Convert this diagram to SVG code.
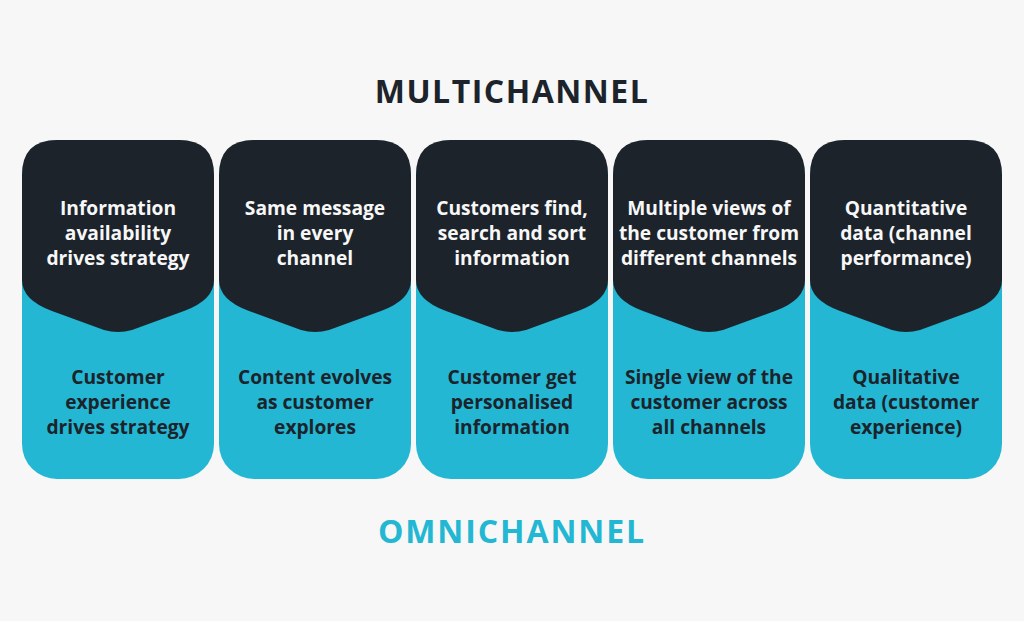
<svg xmlns="http://www.w3.org/2000/svg" width="1024" height="621" viewBox="0 0 1024 621">
<defs>
<style>
.bg{fill:#f7f7f7}
.card{fill:#23b7d3}
.top{fill:#1c232b}
.t{font-family:"Open Sans","Liberation Sans",sans-serif;font-weight:700;text-anchor:middle}
.tw{fill:#f7f7f7;font-size:19.2px}
.td{fill:#1c232b;font-size:19.2px}
.title{font-size:32px;letter-spacing:1.5px}
</style>
<path id="topShape" d="M0,175 Q0,140 35,140 H157 Q192,140 192,175 V280 Q192,300 162,311 L110,330 Q96,334 82,330 L30,311 Q0,300 0,280 Z"/>
</defs>
<rect class="bg" x="0" y="0" width="1024" height="621"/>
<text class="t title" x="512" y="102.5" fill="#1c232b">MULTICHANNEL</text>
<text class="t title" x="512" y="542.5" fill="#23b7d3" style="letter-spacing:1.9px">OMNICHANNEL</text>
<g id="connectors"/>
<g id="card1" transform="translate(22,0)">
<rect class="card" x="0" y="140" width="192" height="339" rx="35"/>
<use href="#topShape" class="top"/>
<text class="t tw" x="96" y="215">Information</text>
<text class="t tw" x="96" y="240">availability</text>
<text class="t tw" x="96" y="265">drives strategy</text>
<text class="t td" x="96" y="384">Customer</text>
<text class="t td" x="96" y="409">experience</text>
<text class="t td" x="96" y="434">drives strategy</text>
</g>
<g id="card2" transform="translate(219,0)">
<rect class="card" x="0" y="140" width="192" height="339" rx="35"/>
<use href="#topShape" class="top"/>
<text class="t tw" x="96" y="215">Same message</text>
<text class="t tw" x="96" y="240">in every</text>
<text class="t tw" x="96" y="265">channel</text>
<text class="t td" x="96" y="384">Content evolves</text>
<text class="t td" x="96" y="409">as customer</text>
<text class="t td" x="96" y="434">explores</text>
</g>
<g id="card3" transform="translate(416,0)">
<rect class="card" x="0" y="140" width="192" height="339" rx="35"/>
<use href="#topShape" class="top"/>
<text class="t tw" x="96" y="215">Customers find,</text>
<text class="t tw" x="96" y="240">search and sort</text>
<text class="t tw" x="96" y="265">information</text>
<text class="t td" x="96" y="384">Customer get</text>
<text class="t td" x="96" y="409">personalised</text>
<text class="t td" x="96" y="434">information</text>
</g>
<g id="card4" transform="translate(613,0)">
<rect class="card" x="0" y="140" width="192" height="339" rx="35"/>
<use href="#topShape" class="top"/>
<text class="t tw" x="96" y="215">Multiple views of</text>
<text class="t tw" x="96" y="240">the customer from</text>
<text class="t tw" x="96" y="265">different channels</text>
<text class="t td" x="96" y="384">Single view of the</text>
<text class="t td" x="96" y="409">customer across</text>
<text class="t td" x="96" y="434">all channels</text>
</g>
<g id="card5" transform="translate(810,0)">
<rect class="card" x="0" y="140" width="192" height="339" rx="35"/>
<use href="#topShape" class="top"/>
<text class="t tw" x="96" y="215">Quantitative</text>
<text class="t tw" x="96" y="240">data (channel</text>
<text class="t tw" x="96" y="265">performance)</text>
<text class="t td" x="96" y="384">Qualitative</text>
<text class="t td" x="96" y="409">data (customer</text>
<text class="t td" x="96" y="434">experience)</text>
</g>
</svg>
